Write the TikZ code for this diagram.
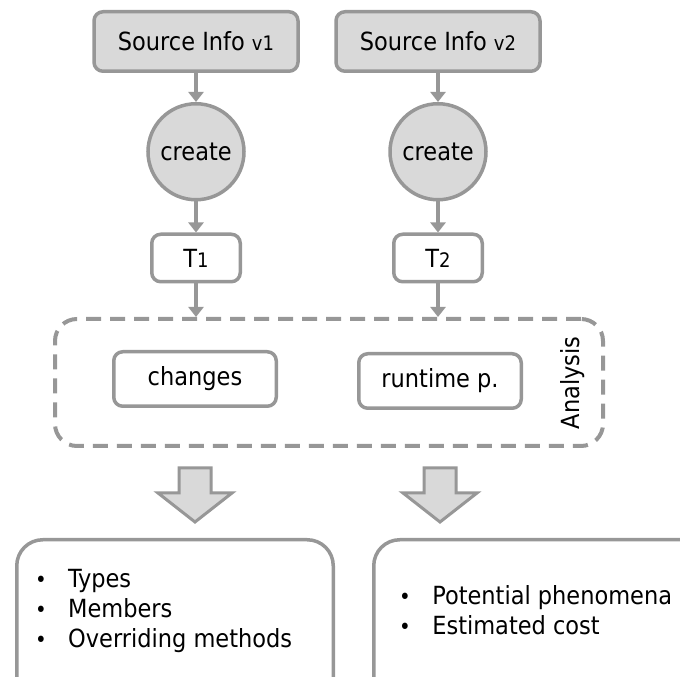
\documentclass[tikz,border=0pt]{standalone}
\usepackage{fontspec}
\setmainfont{DejaVu Sans Condensed}
\usetikzlibrary{arrows.meta,positioning,calc}
\definecolor{edgegray}{HTML}{979797}
\definecolor{boxgray}{HTML}{D9D9D9}
\newcommand{\idx}[1]{{\fontsize{20}{20}\selectfont #1}}
\newcommand{\bul}[1][32pt]{\makebox[#1][l]{\hspace{-1pt}\fontsize{22}{22}\selectfont\raisebox{0.5pt}{•}}}

\begin{document}
\begin{tikzpicture}[x=1pt, y=1pt, every node/.style={font=\fontsize{25}{30}\selectfont, inner sep=0pt},
  src/.style={draw=edgegray, line width=3.5pt, fill=boxgray, rounded corners=9pt, minimum width=204pt, minimum height=59.5pt},
  proc/.style={circle, draw=edgegray, line width=3.5pt, fill=boxgray, minimum size=96pt},
  box/.style={draw=edgegray, line width=3.5pt, fill=white, rounded corners=9pt, minimum height=47.5pt},
  group/.style={draw=edgegray, line width=4pt, dash pattern=on 15pt off 9pt, rounded corners=22pt},
  result/.style={draw=edgegray, line width=3.5pt, rounded corners=26pt, anchor=north west},
  arr/.style={draw=edgegray, line width=4pt, -{Triangle[width=15pt,length=10pt]}},
  bigarr/.style={draw=edgegray, line width=3pt, fill=boxgray, line join=miter},
  downarrow/.pic={\path[bigarr] (-16,0) -- (16,0) -- (16,-25) -- (37,-25) -- (0,-54) -- (-37,-25) -- (-16,-25) -- cycle;}]
\clip (0,0) rectangle (680,677);
% two source versions
\node[src] (src1) at (196,635.5) {Source Info \idx{v1}};
\node[src] (src2) at (438,635.5) {Source Info \idx{v2}};
\node[proc, below=29pt of src1] (cre1) {create};
\node[proc, below=29pt of src2] (cre2) {create};
\node[box, minimum width=88.5pt, below=31pt of cre1] (t1) {T\idx{1}};
\node[box, minimum width=88.5pt, below=31pt of cre2] (t2) {T\idx{2}};
% analysis group
\node[group, minimum width=548pt, minimum height=127pt] (ana) at (329,294.5) {};
\node[box, minimum width=162.5pt, minimum height=54.5pt] (changes) at (195,298) {changes};
\node[box, minimum width=162.5pt, minimum height=54.5pt] (runtime) at (440,296) {runtime p.};
\node[rotate=90] (analab) at (573,294) {Analysis};
\draw[arr] (src1) -- (cre1);
\draw[arr] (src2) -- (cre2);
\draw[arr] (cre1) -- (t1);
\draw[arr] (cre2) -- (t2);
\draw[arr] (t1) -- (t1 |- ana.north);
\draw[arr] (t2) -- (t2 |- ana.north);
% results
\pic at ($(changes |- ana.south)+(0,-20)$) {downarrow};
\pic at ($(runtime |- ana.south)+(0,-20)$) {downarrow};
\node[result, minimum width=316.5pt, minimum height=200pt] (res1) at (15,139) {};
\node[result, minimum width=340pt, minimum height=200pt] (res2) at (372,139) {};
\node[anchor=base west] (list1) at (36,89) {\begin{tabular}[t]{@{}l@{}}\bul Types\\ \bul Members\\ \bul Overriding methods\end{tabular}};
\node[anchor=base west] (list2) at (400,72) {\begin{tabular}[t]{@{}l@{}}\bul[25pt] Potential phenomena\\ \bul[25pt] Estimated cost\end{tabular}};
\end{tikzpicture}
\end{document}
